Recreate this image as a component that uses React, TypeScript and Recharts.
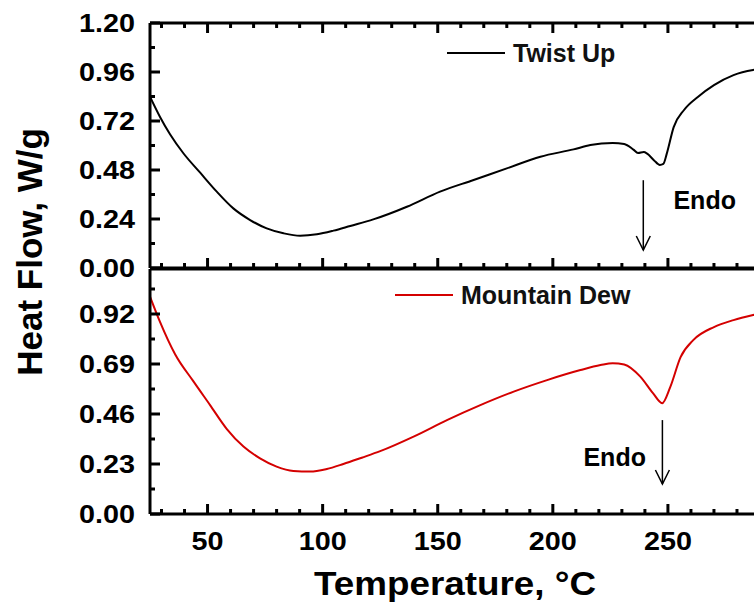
import React from "react";
import {
  LineChart,
  Line,
  XAxis,
  YAxis,
  ReferenceLine,
  ReferenceDot,
  Legend,
} from "recharts";

// Temperature (°C) and heat flow (W/g)
const twistTemp = [25, 29.3, 33.7, 39.5, 46.7, 54, 61.2, 68.5, 75.7, 83, 90.2, 97.5, 104.7, 112, 122, 136.6, 151, 165.6, 180, 194.6, 209, 216.3, 226, 231, 235, 237, 239.5, 241, 244, 246.5, 248, 249.5, 252.5, 257, 263, 270, 278.5, 287, 290];
const twistFlow = [0.839, 0.741, 0.655, 0.562, 0.468, 0.374, 0.292, 0.235, 0.194, 0.17, 0.158, 0.165, 0.183, 0.206, 0.238, 0.3, 0.374, 0.431, 0.488, 0.545, 0.581, 0.602, 0.612, 0.607, 0.58, 0.563, 0.568, 0.56, 0.527, 0.505, 0.51, 0.56, 0.69, 0.774, 0.838, 0.896, 0.945, 0.97, 0.975];

const dewTemp = [25, 29.3, 35.9, 43.8, 51.1, 58.3, 65.6, 72.8, 80, 87.3, 94.6, 101.8, 109, 117, 125, 139.5, 154, 168.5, 183, 197.5, 212, 220.7, 226, 231, 238, 243.5, 247.5, 251, 255.5, 261, 270, 278.5, 287, 290];
const dewFlow = [1.0, 0.885, 0.735, 0.611, 0.501, 0.392, 0.31, 0.256, 0.218, 0.198, 0.195, 0.207, 0.23, 0.259, 0.289, 0.356, 0.432, 0.501, 0.563, 0.616, 0.662, 0.685, 0.694, 0.688, 0.632, 0.556, 0.51, 0.584, 0.722, 0.8, 0.86, 0.892, 0.915, 0.922];

const tempTicks = [30, 40, 50, 60, 70, 80, 90, 100, 110, 120, 130, 140, 150, 160, 170, 180, 190, 200, 210, 220, 230, 240, 250, 260, 270, 280];
const tempLabels = [50, 100, 150, 200, 250];
const topTicks = [0, 0.12, 0.24, 0.36, 0.48, 0.6, 0.72, 0.84, 0.96, 1.08, 1.2];
const topLabels = [0, 0.24, 0.48, 0.72, 0.96, 1.2];
const bottomTicks = [0, 0.115, 0.23, 0.345, 0.46, 0.575, 0.69, 0.805, 0.92, 1.035];
const bottomLabels = [0, 0.23, 0.46, 0.69, 0.92];

const twistData = twistTemp.map((t, i) => ({ t, v: twistFlow[i] }));
const dewData = dewTemp.map((t, i) => ({ t, v: dewFlow[i] }));

const W = 770;
const H = 613;
const FONT = "'Liberation Sans', Arial, sans-serif";

const isLabel = (v: number, list: number[]) => list.some((l) => Math.abs(l - v) < 1e-6);
// tick numbers in the reference are drawn wider than plain Arial
const numWidth = (s: string) => s.split("").reduce((w, c) => w + (c === "." ? 8 : 16), 0);

function makeXTick(dir: number, labels: number[] | null) {
  return function XTick({ x, y, payload }: any) {
    const major = isLabel(payload.value, tempLabels);
    const len = major ? 10 : 5;
    const showLabel = labels && isLabel(payload.value, labels);
    const txt = String(payload.value);
    return (
      <g>
        <line x1={x} y1={y} x2={x} y2={y + dir * len} stroke="#000" strokeWidth={3} />
        {showLabel && (
          <text x={x} y={y + 36} textAnchor="middle" fontFamily={FONT} fontWeight="bold" fontSize={25}
            textLength={numWidth(txt)} lengthAdjust="spacingAndGlyphs" fill="#000">
            {txt}
          </text>
        )}
      </g>
    );
  };
}

function makeYTick(dir: number, labels: number[], showLabels: boolean) {
  return function YTick({ x, y, payload }: any) {
    const major = isLabel(payload.value, labels);
    const len = major ? 10 : 5;
    const txt = payload.value.toFixed(2);
    return (
      <g>
        <line x1={x} y1={y} x2={x + dir * len} y2={y} stroke="#000" strokeWidth={3} />
        {showLabels && major && (
          <text x={x - 15} y={y + 9} textAnchor="end" fontFamily={FONT} fontWeight="bold" fontSize={25}
            textLength={numWidth(txt)} lengthAdjust="spacingAndGlyphs" fill="#000">
            {txt}
          </text>
        )}
      </g>
    );
  };
}

function Arrow({ x1, y1, x2, y2 }: any) {
  return (
    <g>
      <line x1={x1} y1={y1} x2={x2} y2={y2} stroke="#000" strokeWidth={1.5} />
      <polyline points={`${x2 - 7},${y2 - 14} ${x2},${y2} ${x2 + 7},${y2 - 14}`} fill="none" stroke="#000" strokeWidth={1.5} />
    </g>
  );
}

function EndoText({ cx, cy }: any) {
  return (
    <text x={cx} y={cy + 9} fontFamily={FONT} fontWeight="bold" fontSize={25} fill="#000">
      Endo
    </text>
  );
}

function LegendKey({ payload }: any) {
  const item = payload && payload[0];
  if (!item) return null;
  return (
    <svg width={260} height={30} style={{ display: "block" }}>
      <line x1={0} y1={15} x2={58} y2={15} stroke={item.color} strokeWidth={2} />
      <text x={66} y={24} fontFamily={FONT} fontWeight="bold" fontSize={25} fill="#111">
        {item.value}
      </text>
    </svg>
  );
}

function YTitle({ viewBox }: any) {
  const cx = viewBox.x - 38;
  const cy = viewBox.y + 229;
  return (
    <text x={cx} y={cy} transform={`rotate(-90 ${cx} ${cy})`} textAnchor="middle"
      fontFamily={FONT} fontWeight="bold" fontSize={35} fill="#000">
      Heat Flow, W/g
    </text>
  );
}

function XTitle({ viewBox }: any) {
  const cx = viewBox.x + 305;
  const cy = viewBox.y + 81;
  return (
    <text x={cx} y={cy} textAnchor="middle" fontFamily={FONT} fontWeight="bold" fontSize={34}
      textLength={282} lengthAdjust="spacingAndGlyphs" fill="#000">
      Temperature, °C
    </text>
  );
}

const axisLine = { stroke: "#000", strokeWidth: 3 };

export default function App() {
  return (
    <div style={{ position: "absolute", left: 0, top: 0, width: 754, height: 613, overflow: "hidden", background: "#fff" }}>
      {/* upper panel: Twist Up */}
      <div style={{ position: "absolute", left: 0, top: 0 }}>
        <LineChart width={W} height={H} margin={{ top: 22, right: 9, bottom: 344, left: 80 }}>
          <XAxis dataKey="t" type="number" domain={[25, 290]} allowDataOverflow ticks={tempTicks} interval={0}
            height={1} tickSize={0} tickMargin={0} tickLine={false} axisLine={axisLine} tick={makeXTick(-1, null)} />
          <XAxis xAxisId="top" orientation="top" dataKey="t" type="number" domain={[25, 290]} allowDataOverflow
            ticks={tempTicks} interval={0} height={1} tickSize={0} tickMargin={0} tickLine={false}
            axisLine={axisLine} tick={makeXTick(1, null)} />
          <YAxis type="number" domain={[0, 1.2]} allowDataOverflow ticks={topTicks} interval={0} width={70}
            tickSize={0} tickMargin={0} tickLine={false} axisLine={axisLine} tick={makeYTick(1, topLabels, true)}
            label={(p: any) => <YTitle {...p} />} />
          <YAxis yAxisId="right" orientation="right" type="number" domain={[0, 1.2]} ticks={topTicks} interval={0}
            width={1} tickSize={0} tickMargin={0} tickLine={false} axisLine={axisLine} tick={makeYTick(-1, topLabels, false)} />
          <Legend layout="vertical" align="center" verticalAlign="middle" content={<LegendKey />}
            wrapperStyle={{ left: 447, top: 38, width: 260 }} />
          <Line data={twistData} dataKey="v" name="Twist Up" type="monotone" stroke="#000" strokeWidth={2}
            dot={false} isAnimationActive={false} />
          <ReferenceLine segment={[{ x: 239.3, y: 0.43 }, { x: 239.3, y: 0.088 }]} shape={(p: any) => <Arrow {...p} />} />
          <ReferenceDot x={252.4} y={0.333} r={0} shape={(p: any) => <EndoText {...p} />} />
        </LineChart>
      </div>
      {/* lower panel: Mountain Dew */}
      <div style={{ position: "absolute", left: 0, top: 0 }}>
        <LineChart width={W} height={H} margin={{ top: 268, right: 9, bottom: 98, left: 80 }}>
          <XAxis dataKey="t" type="number" domain={[25, 290]} allowDataOverflow ticks={tempTicks} interval={0}
            height={1} tickSize={0} tickMargin={0} tickLine={false} axisLine={axisLine} tick={makeXTick(-1, tempLabels)}
            label={(p: any) => <XTitle {...p} />} />
          <XAxis xAxisId="top" orientation="top" dataKey="t" type="number" domain={[25, 290]} allowDataOverflow
            height={1} tick={false} tickLine={false} axisLine={axisLine} />
          <YAxis type="number" domain={[0, 1.127]} allowDataOverflow ticks={bottomTicks} interval={0} width={70}
            tickSize={0} tickMargin={0} tickLine={false} axisLine={axisLine} tick={makeYTick(1, bottomLabels, true)} />
          <YAxis yAxisId="right" orientation="right" type="number" domain={[0, 1.127]} ticks={bottomTicks} interval={0}
            width={1} tickSize={0} tickMargin={0} tickLine={false} axisLine={axisLine} tick={makeYTick(-1, bottomLabels, false)} />
          <Legend layout="vertical" align="center" verticalAlign="middle" content={<LegendKey />}
            wrapperStyle={{ left: 395, top: 280, width: 260 }} />
          <Line data={dewData} dataKey="v" name="Mountain Dew" type="monotone" stroke="#d40000" strokeWidth={2}
            dot={false} isAnimationActive={false} />
          <ReferenceLine segment={[{ x: 247.6, y: 0.432 }, { x: 247.6, y: 0.138 }]} shape={(p: any) => <Arrow {...p} />} />
          <ReferenceDot x={213.3} y={0.262} r={0} shape={(p: any) => <EndoText {...p} />} />
        </LineChart>
      </div>
    </div>
  );
}
